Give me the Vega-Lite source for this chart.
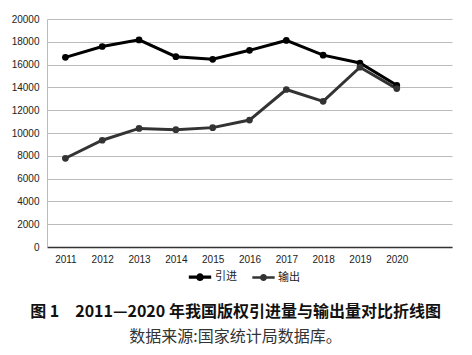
{
  "$schema": "https://vega.github.io/schema/vega-lite/v6.json",
  "autosize": "none",
  "width": 405,
  "height": 228,
  "padding": {"left": 47, "top": 19, "right": 20, "bottom": 108},
  "background": "white",
  "data": {"values": [
    {"year": 2011, "series": "引进", "value": 16639},
    {"year": 2012, "series": "引进", "value": 17589},
    {"year": 2013, "series": "引进", "value": 18167},
    {"year": 2014, "series": "引进", "value": 16695},
    {"year": 2015, "series": "引进", "value": 16467},
    {"year": 2016, "series": "引进", "value": 17252},
    {"year": 2017, "series": "引进", "value": 18120},
    {"year": 2018, "series": "引进", "value": 16829},
    {"year": 2019, "series": "引进", "value": 16140},
    {"year": 2020, "series": "引进", "value": 14185},
    {"year": 2011, "series": "输出", "value": 7783},
    {"year": 2012, "series": "输出", "value": 9365},
    {"year": 2013, "series": "输出", "value": 10401},
    {"year": 2014, "series": "输出", "value": 10293},
    {"year": 2015, "series": "输出", "value": 10471},
    {"year": 2016, "series": "输出", "value": 11133},
    {"year": 2017, "series": "输出", "value": 13816},
    {"year": 2018, "series": "输出", "value": 12778},
    {"year": 2019, "series": "输出", "value": 15767},
    {"year": 2020, "series": "输出", "value": 13895}
  ]},
  "title": {
    "text": "图 1　2011—2020 年我国版权引进量与输出量对比折线图",
    "subtitle": "数据来源:国家统计局数据库。",
    "orient": "bottom",
    "anchor": "middle",
    "dx": -14,
    "offset": 18,
    "font": "Noto Sans CJK SC",
    "fontSize": 16,
    "fontWeight": "bold",
    "color": "#111",
    "subtitleFont": "Noto Sans CJK SC",
    "subtitleFontSize": 16,
    "subtitleColor": "#333",
    "subtitlePadding": 9
  },
  "config": {
    "view": {"stroke": null},
    "font": "Noto Sans CJK SC"
  },
  "encoding": {
    "x": {
      "field": "year", "type": "quantitative",
      "scale": {"domain": [2010.5, 2021.5], "nice": false, "zero": false},
      "axis": {
        "title": null, "values": [2011, 2012, 2013, 2014, 2015, 2016, 2017, 2018, 2019, 2020],
        "format": "d", "grid": false, "ticks": false, "labelPadding": 7,
        "labelFont": "Liberation Sans", "labelFontSize": 10, "labelColor": "#222",
        "domainColor": "#333", "domainWidth": 1.5, "labelFlush": false
      }
    },
    "y": {
      "field": "value", "type": "quantitative",
      "scale": {"domain": [0, 20000], "nice": false},
      "axis": {
        "title": null, "values": [0, 2000, 4000, 6000, 8000, 10000, 12000, 14000, 16000, 18000, 20000],
        "format": "d", "ticks": false, "labelPadding": 8,
        "labelFont": "Liberation Sans", "labelFontSize": 10, "labelColor": "#222",
        "gridColor": "#bbbbbb", "gridWidth": 1, "domainColor": "#bbbbbb", "domainWidth": 1
      }
    },
    "color": {
      "field": "series", "type": "nominal",
      "scale": {"domain": ["引进", "输出"], "range": ["#000000", "#333333"]},
      "legend": {
        "title": null, "orient": "none", "direction": "horizontal",
        "legendX": 140, "legendY": 245,
        "symbolType": "M-1,0L-0.3,0M0.3,0L1,0M-0.2,0A0.2,0.2 0 1,1 0.2,0A0.2,0.2 0 1,1 -0.2,0",
        "symbolSize": 500, "symbolStrokeWidth": 3,
        "labelFontSize": 11, "labelColor": "#222", "labelOffset": 2, "columnPadding": 10
      }
    }
  },
  "layer": [
    {
      "mark": {"type": "line", "strokeWidth": 3},
      "encoding": {"strokeWidth": {"field": "series", "type": "nominal", "scale": {"domain": ["引进", "输出"], "range": [3.2, 2.6]}, "legend": null}}
    },
    {
      "mark": {"type": "point", "filled": true, "size": 45, "opacity": 1}
    }
  ]
}
